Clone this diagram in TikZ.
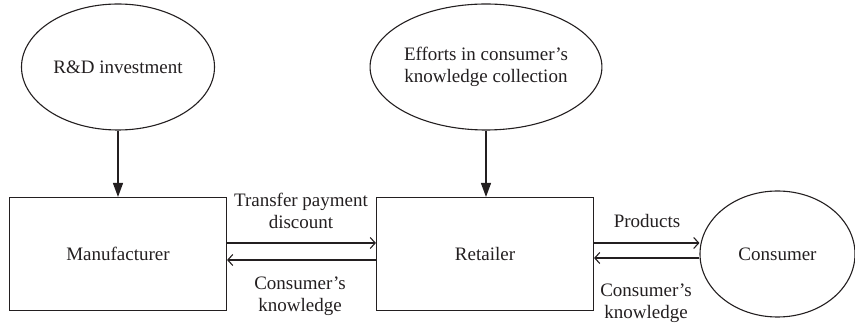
\documentclass[tikz,border=0pt]{standalone}
\usepackage{fontspec}
\setmainfont{Liberation Serif}
\usetikzlibrary{shapes.geometric,arrows.meta}
\definecolor{ink}{HTML}{231F20}
\begin{document}
\begin{tikzpicture}[x=1pt,y=-1pt,
  every node/.style={font=\fontsize{19}{22.5}\selectfont,text=ink},
  oval/.style={ellipse,draw=ink,line width=1.1pt,inner sep=0pt,align=center},
  box/.style={rectangle,draw=ink,line width=1.1pt,inner sep=0pt,minimum width=217pt,minimum height=113pt},
  lbl/.style={align=center,inner sep=0pt},
  vdown/.style={draw=ink,line width=1.3pt,-{Triangle[length=14pt,width=10pt]}},
  harrow/.style={draw=ink,line width=1.1pt,-{Straight Barb[length=5pt,width=11pt,line width=1.1pt]}}]
\useasboundingbox (0,0) rectangle (855,328);
\node[oval,minimum width=193pt,minimum height=126pt] (rd) at (118,67) {R\&D investment};
\node[oval,minimum width=193pt,minimum height=126pt] (eff) at (486,67) {Efforts in consumer’s\\knowledge collection};
\node[box] (mfr) at (118,254) {Manufacturer};
\node[box] (ret) at (485,254) {Retailer};
\node[oval,minimum width=155pt,minimum height=126pt] (cons) at (777.5,254) {Consumer};
\draw[vdown] (rd.south) -- (mfr.north);
\draw[vdown] (eff.south) -- (eff.south |- ret.north);
\draw[harrow] ([yshift=11]mfr.east) -- ([yshift=11]ret.west);
\draw[harrow] ([yshift=-6]ret.west) -- ([yshift=-6]mfr.east);
\draw[harrow] ([yshift=11]ret.east) -- ([yshift=11]cons.west);
\draw[harrow] ([yshift=-4]cons.west) -- ([yshift=-4]ret.east);
\node[lbl] (tp) at (301,211) {Transfer payment\\discount};
\node[lbl] (ck1) at (300,296) {Consumer’s\\knowledge};
\node[lbl] (pr) at (647,221) {Products};
\node[lbl] (ck2) at (646,303) {Consumer’s\\knowledge};
\end{tikzpicture}
\end{document}
